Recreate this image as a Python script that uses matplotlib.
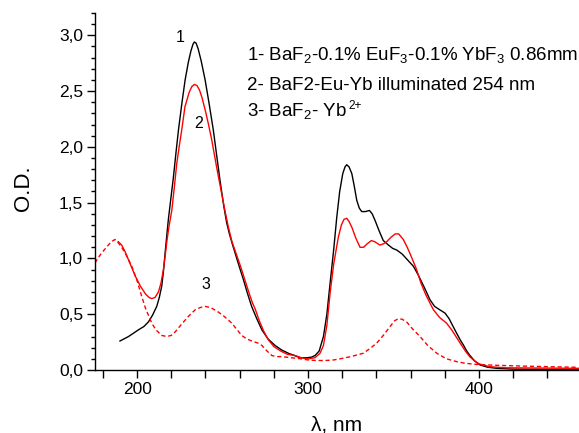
import matplotlib
matplotlib.use("Agg")
import matplotlib.pyplot as plt
from matplotlib.ticker import MultipleLocator, FuncFormatter

plt.rcParams['font.family'] = ['Liberation Sans', 'DejaVu Sans']
plt.rcParams['mathtext.fontset'] = 'custom'
plt.rcParams['mathtext.rm'] = 'Liberation Sans'
plt.rcParams['mathtext.it'] = 'Liberation Sans:italic'
plt.rcParams['mathtext.bf'] = 'Liberation Sans:bold'

# Curve 1: BaF2-0.1% EuF3-0.1% YbF3, 0.86 mm
wl_1 = [190, 195, 200.8, 204, 206.6, 209, 211.5, 213, 214.4, 215.4, 216.4, 217.4,
        218.3, 219.7, 221.2, 222.7, 224.2, 226.2, 228.1, 230, 231.5, 232.7, 233.5,
        234.5, 235.7, 237.5, 239.8, 242, 244.6, 246.5, 248.5, 250.7, 252.4, 254,
        255.7, 257.3, 259.7, 262.2, 264.5, 267, 270, 273, 276.5, 280.7, 284.5, 288.5,
        292, 295.3, 299.2, 302, 304.1, 306.5, 309, 311, 312.9, 315, 316.8, 318.5,
        320.3, 321.6, 322.6, 324, 325.6, 327, 328.5, 330, 331.4, 333.5, 335.9,
        337.5, 339.2, 341.5, 344, 347, 349.5, 351.9, 355, 358, 361.6, 364.5, 368,
        371.3, 374, 377, 380.1, 382.5, 384.5, 386.9, 389, 391, 392.8, 394.7,
        397.5, 400.6, 405, 410.3, 420, 440, 459]
od_1 = [0.26, 0.30, 0.36, 0.39, 0.43, 0.49, 0.57, 0.65, 0.75, 0.88, 1.05, 1.21,
        1.35, 1.53, 1.72, 1.94, 2.15, 2.39, 2.60, 2.76, 2.86, 2.92, 2.94,
        2.93, 2.88, 2.77, 2.60, 2.40, 2.15, 1.93, 1.70, 1.47, 1.32, 1.22,
        1.13, 1.05, 0.93, 0.81, 0.69, 0.57, 0.46, 0.36, 0.28, 0.22, 0.18, 0.15,
        0.13, 0.11, 0.11, 0.115, 0.13, 0.17, 0.30, 0.50, 0.78, 1.08, 1.37, 1.60,
        1.76, 1.82, 1.84, 1.82, 1.76, 1.65, 1.52, 1.45, 1.42, 1.42, 1.43,
        1.40, 1.34, 1.25, 1.16, 1.12, 1.09, 1.075, 1.04, 0.99, 0.93, 0.85, 0.74,
        0.63, 0.57, 0.54, 0.51, 0.46, 0.40, 0.33, 0.27, 0.22, 0.17, 0.13,
        0.08, 0.045, 0.025, 0.015, 0.008, 0.005, 0.004]

# Curve 2: BaF2-Eu-Yb after illumination at 254 nm
wl_2 = [189, 191, 193, 196, 199, 202, 205, 207, 208.6, 210.5, 212.5, 214, 215.4,
        216.5, 217.4, 218.5, 220.3, 221.8, 223.2, 224.8, 226.2, 228, 230.5, 232,
        233.5, 235, 236.5, 238, 240, 241.8, 243.7, 246.5, 249.5, 251.5, 253.4,
        255.5, 258, 260.5, 263, 265.5, 267.5, 269, 271.5, 274, 276.8, 280, 284,
        288, 292.4, 296, 300.2, 304, 307, 309, 311, 312.9, 315, 317.7, 319.5, 321,
        322.6, 324, 325.6, 328, 330.4, 332.5, 334.5, 337, 339, 342, 344, 346,
        348.5, 351, 353, 355.7, 358, 360, 363.5, 366, 369, 373.3, 377, 381, 384,
        386.5, 389, 392, 394.5, 396.7, 400, 406, 415, 430, 459]
od_2 = [1.15, 1.12, 1.06, 0.95, 0.84, 0.75, 0.68, 0.65, 0.64, 0.65, 0.70, 0.78, 0.90,
        1.03, 1.15, 1.27, 1.43, 1.64, 1.85, 2.02, 2.16, 2.36, 2.49, 2.54,
        2.56, 2.55, 2.51, 2.44, 2.32, 2.20, 2.06, 1.82, 1.58, 1.42, 1.28,
        1.15, 1.04, 0.93, 0.81, 0.69, 0.60, 0.55, 0.44, 0.35, 0.27, 0.21, 0.17,
        0.14, 0.13, 0.11, 0.10, 0.11, 0.15, 0.22, 0.40, 0.69, 0.95, 1.19, 1.30, 1.35,
        1.36, 1.33, 1.28, 1.18, 1.10, 1.10, 1.13, 1.16, 1.15, 1.12, 1.13, 1.15,
        1.19, 1.22, 1.22, 1.17, 1.10, 1.03, 0.90, 0.78, 0.67, 0.54, 0.47, 0.42, 0.36,
        0.30, 0.24, 0.17, 0.12, 0.09, 0.055, 0.03, 0.02, 0.018, 0.015]

# Curve 3: BaF2-Yb2+
wl_3 = [175.4, 177, 179.3, 181, 183.2, 185, 187.1, 189, 191, 194, 196.9, 200,
        202.7, 205, 208.6, 211, 214.4, 217.4, 220, 222.2, 226, 230, 234, 237,
        239.8, 243, 247.5, 251, 255.4, 258, 261.2, 264, 267.1, 270.9, 273, 276,
        278.8, 281.7, 284.6, 290, 296, 300, 305, 310, 315, 318.7, 325, 332.3, 336,
        340.1, 344, 348, 350.5, 352.8, 355, 357.7, 361, 365.5, 370, 375.3, 381,
        386.9, 392, 398.6, 410, 425.9, 440, 458]
od_3 = [0.96, 1.00, 1.05, 1.08, 1.12, 1.15, 1.17, 1.14, 1.10, 1.02, 0.93, 0.80,
        0.66, 0.55, 0.42, 0.36, 0.31, 0.30, 0.31, 0.34, 0.41, 0.48, 0.54, 0.56,
        0.57, 0.56, 0.52, 0.48, 0.42, 0.37, 0.31, 0.28, 0.26, 0.24, 0.22, 0.17,
        0.13, 0.12, 0.12, 0.11, 0.10, 0.09, 0.085, 0.085, 0.09, 0.10, 0.12, 0.15, 0.19,
        0.24, 0.31, 0.39, 0.44, 0.46, 0.455, 0.43, 0.37, 0.30, 0.22, 0.15, 0.10,
        0.075, 0.06, 0.05, 0.042, 0.035, 0.03, 0.024]

y_ticks = [0.0, 0.5, 1.0, 1.5, 2.0, 2.5, 3.0]
x_ticks = [200, 300, 400]

fig = plt.figure(figsize=(5.79, 4.33), dpi=100)
ax = fig.add_axes([0.1641, 0.1455, 0.836, 0.8245])

ax.plot(wl_1, od_1, color='black', lw=1.0)
ax.plot(wl_2, od_2, color='#ff0000', lw=1.0)
ax.plot(wl_3, od_3, color='#ff0000', lw=1.0, linestyle=(0, (3, 2)))

ax.set_xlim(175.4, 458.5)
ax.set_ylim(0, 3.2)

for side in ('top', 'right'):
    ax.spines[side].set_visible(False)
for side in ('left', 'bottom'):
    ax.spines[side].set_linewidth(1.0)

ax.set_yticks(y_ticks)
ax.yaxis.set_minor_locator(MultipleLocator(0.1))
ax.yaxis.set_major_formatter(FuncFormatter(lambda v, p: f"{v:.1f}".replace('.', ',')))
ax.set_xticks(x_ticks)
ax.xaxis.set_minor_locator(MultipleLocator(20))
ax.tick_params(axis='both', which='major', direction='out', length=5.5, width=1.0,
               labelsize=12.5, pad=3)
ax.tick_params(axis='y', which='minor', direction='out', length=3, width=1.0)
ax.tick_params(axis='x', which='minor', direction='out', length=5.5, width=1.0)

fig.text(23 / 579, 1 - 188 / 433, 'O.D.', rotation=90, ha='center', va='center', fontsize=16)
fig.text(337 / 579, 1 - 425 / 433, 'λ, nm', ha='center', va='center', fontsize=15)

ax.text(225.1, 2.98, '1', ha='center', va='center', fontsize=11.5)
ax.text(235.8, 2.21, '2', ha='center', va='center', fontsize=11.5)
ax.text(240.4, 0.77, '3', ha='center', va='center', fontsize=11.5)

ax.text(264.3, 2.782, '1- BaF$_2$-0.1% EuF$_3$-0.1% YbF$_3$ 0.86mm', ha='left',
        va='baseline', fontsize=13.5)
ax.text(264.3, 2.514, '2- BaF2-Eu-Yb illuminated 254 nm', ha='left',
        va='baseline', fontsize=13.5)
line3 = ax.text(264.3, 2.275, '3- BaF$_2$- Yb', ha='left', va='baseline', fontsize=13.5)
ax.annotate('2+', xy=(1.0, 1.0), xycoords=line3, xytext=(0.8, -3.5), textcoords='offset points',
            ha='left', va='center', fontsize=8.5)

fig.savefig('out.png', dpi=100)
